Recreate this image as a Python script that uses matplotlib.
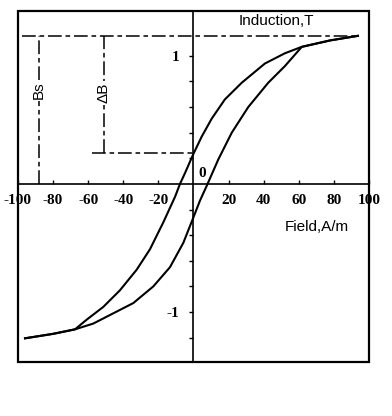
# ----------------------------------------------------------
#  Hysteresis loop: Induction (T) vs Field (A/m)
# ----------------------------------------------------------
import matplotlib
matplotlib.use("Agg")
import matplotlib.pyplot as plt
from matplotlib.patches import Rectangle

plt.rcParams['axes.unicode_minus'] = False

# ----------------------------------------------------------
# 1. Data
# ----------------------------------------------------------
# descending branch (from +saturation to -saturation)
h_down = [93.7, 77.8, 61.7, 52.1, 40.7, 27.5, 17.9, 10.4, 4.7, -0.3, -4.8,
          -7.7, -10.5, -17.2, -24.8, -32.4, -41.9, -51.4, -60.9, -67.5,
          -79.9, -96.0]
b_down = [1.156, 1.12, 1.07, 1.02, 0.94, 0.79, 0.66, 0.51, 0.37, 0.227, 0.086,
          0.0, -0.1, -0.3, -0.51, -0.67, -0.83, -0.96, -1.06, -1.135,
          -1.17, -1.205]

# ascending branch (from -saturation to +saturation)
h_up = [-96.0, -79.9, -67.5, -57.1, -45.7, -34.3, -22.9, -13.4, -5.8, -0.3,
        3.7, 7.5, 14.1, 21.8, 31.2, 42.6, 52.1, 61.7, 77.8, 93.7]
b_up = [-1.205, -1.17, -1.135, -1.09, -1.01, -0.93, -0.80, -0.65, -0.46, -0.27,
        -0.13, -0.016, 0.19, 0.40, 0.60, 0.79, 0.92, 1.07, 1.12, 1.156]

bs_level = 1.156      # saturation induction
br_level = 0.24       # remanence
bs_marker_h = -88     # where the Bs bracket stands
db_marker_h = -51     # where the dB bracket stands
br_line_start = -58

x_ticks = [-100, -80, -60, -40, -20, 20, 40, 60, 80, 100]
x_labels = ['-100', '-80', '-60', '-40', '-20', '20', '40', '60', '80', '100']
y_ticks = [-1.2, -1.0, -0.8, -0.6, -0.4, -0.2, 0.2, 0.4, 0.6, 0.8, 1.0]
y_labels = ['', '-1', '', '', '', '', '', '', '', '', '1']

# ----------------------------------------------------------
# 2. Figure
# ----------------------------------------------------------
fig = plt.figure(figsize=(3.92, 4.16), dpi=100)
ax = fig.add_axes([0.0459, 0.1298, 0.8954, 0.8438])
ax.set_xlim(-100, 100)
ax.set_ylim(-1.39, 1.35)

# axes crossing at the origin, outer frame drawn separately
for side in ['top', 'right']:
    ax.spines[side].set_visible(False)
ax.spines['left'].set_position(('data', 0))
ax.spines['bottom'].set_position(('data', 0))
ax.spines['left'].set_linewidth(1.2)
ax.spines['bottom'].set_linewidth(1.2)
ax.add_patch(Rectangle((0, 0), 1, 1, transform=ax.transAxes, fill=False,
                       lw=1.6, color='black', clip_on=False))

serif_bold = {'family': 'Liberation Serif', 'weight': 'bold', 'size': 11}

ax.set_xticks(x_ticks)
ax.set_xticklabels(x_labels, fontdict=serif_bold)
ax.set_yticks(y_ticks)
ax.set_yticklabels(y_labels, fontdict=serif_bold)
ax.tick_params(axis='x', direction='in', length=3, width=1, pad=7)
ax.tick_params(axis='y', direction='out', length=3, width=1, pad=7)

# loop
ax.plot(h_down, b_down, color='black', lw=1.5, solid_joinstyle='round')
ax.plot(h_up, b_up, color='black', lw=1.5, solid_joinstyle='round')

# dash-dot construction lines
dash = (0, (9, 2.5, 3, 2.5))
ax.plot([-98, h_down[0]], [bs_level, bs_level], color='black', lw=1.1, ls=dash)
ax.plot([bs_marker_h, bs_marker_h], [0, bs_level], color='black', lw=1.1, ls=dash)
ax.plot([db_marker_h, db_marker_h], [br_level, bs_level], color='black', lw=1.1, ls=dash)
ax.plot([br_line_start, 0], [br_level, br_level], color='black', lw=1.1, ls=dash)

# labels
ax.text(bs_marker_h, 0.73, 'Bs', rotation=90, ha='center', va='center',
        family='Liberation Sans', fontsize=11,
        bbox=dict(facecolor='white', edgecolor='none', pad=1))
ax.text(db_marker_h, 0.71, 'ΔB', rotation=90, ha='center', va='center',
        family='Liberation Sans', fontsize=11,
        bbox=dict(facecolor='white', edgecolor='none', pad=1))
ax.text(47, 1.27, 'Induction,T', ha='center', va='center',
        family='Liberation Sans', fontsize=11)
ax.text(70, -0.34, 'Field,A/m', ha='center', va='center',
        family='Liberation Sans', fontsize=11)
ax.text(5, 0.08, '0', ha='center', va='center', fontdict=serif_bold)

fig.savefig('out.png', dpi=100)
